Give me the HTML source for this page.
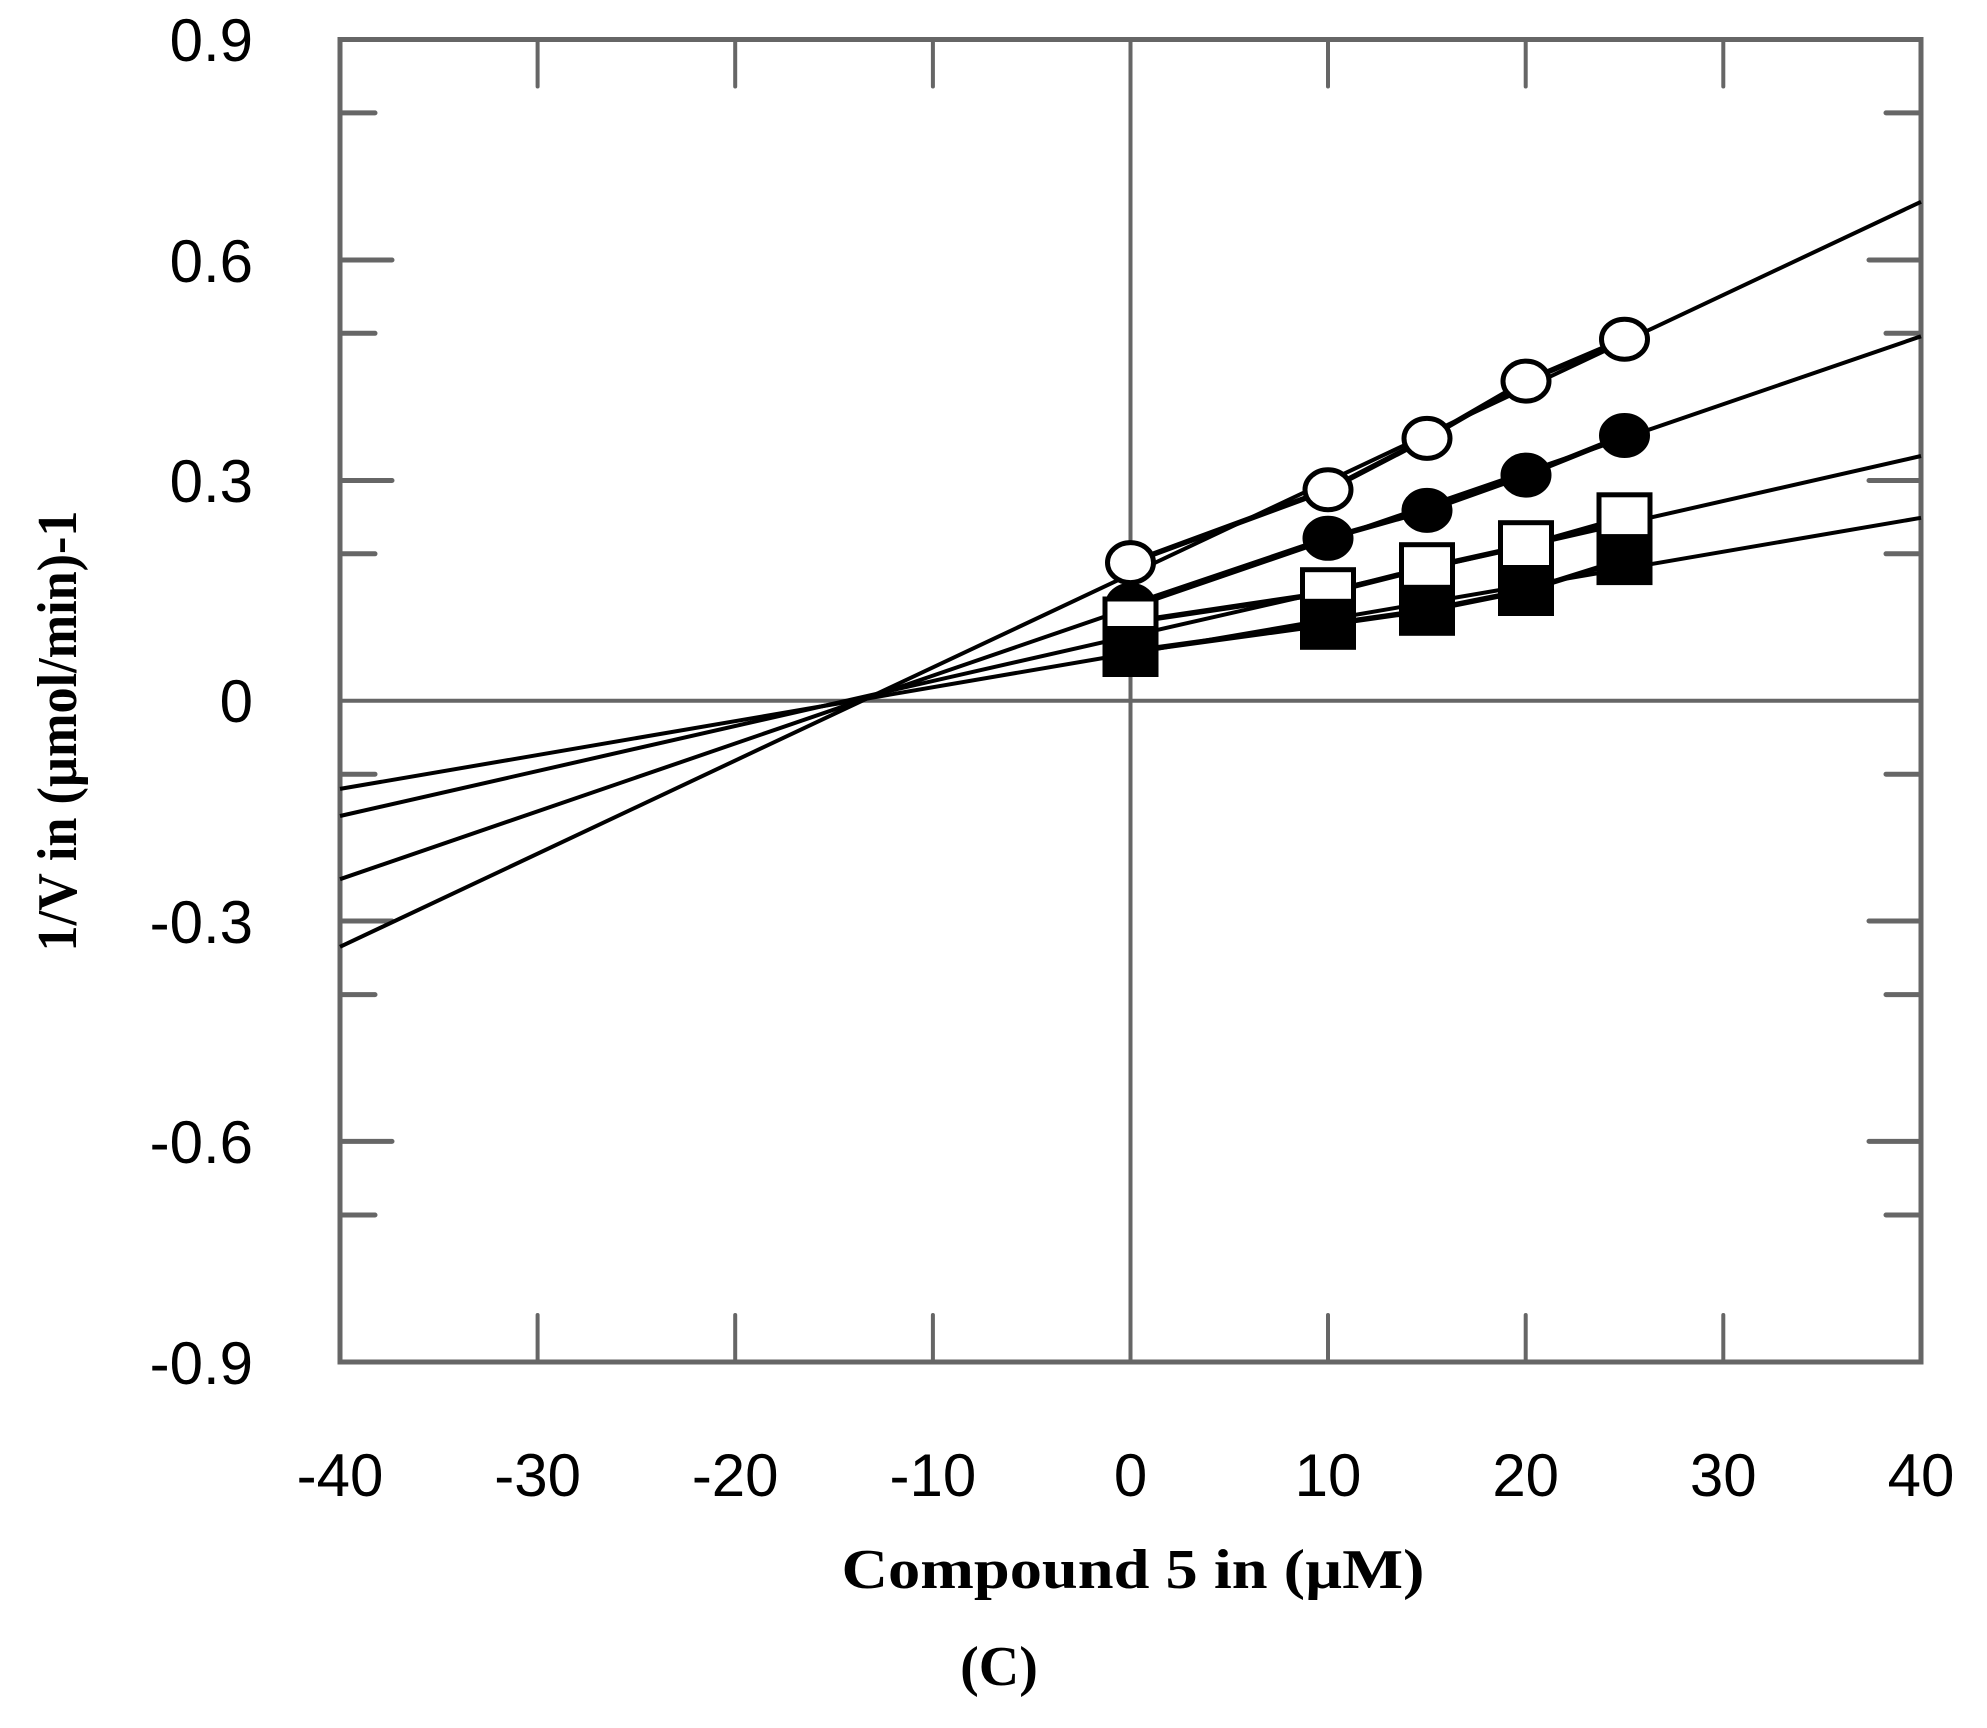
<!DOCTYPE html>
<html><head><meta charset="utf-8"><style>body{margin:0;background:#fff}svg{display:block}</style></head>
<body>
<svg width="1987" height="1728" viewBox="0 0 1987 1728" xmlns="http://www.w3.org/2000/svg">
<g stroke="#666" stroke-width="4" fill="none" stroke-linecap="round">
<rect x="340" y="39.5" width="1581" height="1322.5" stroke-width="5"/>
<line x1="1130.5" y1="39.5" x2="1130.5" y2="1362"/>
<line x1="340" y1="700.7" x2="1921" y2="700.7"/>
<path d="M537.6 39.5v47M735.2 39.5v47M932.9 39.5v47M1328 39.5v47M1525.7 39.5v47M1723.3 39.5v47
M537.6 1362v-47M735.2 1362v-47M932.9 1362v-47M1328 1362v-47M1525.7 1362v-47M1723.3 1362v-47"/>
<path d="M340 260h52M340 480.5h52M340 921h52M340 1141.4h52
M1921 260h-52M1921 480.5h-52M1921 921h-52M1921 1141.4h-52
M340 112.9h35M340 333.3h35M340 553.8h35M340 774.2h35M340 994.6h35M340 1215h35
M1921 112.9h-35M1921 333.3h-35M1921 553.8h-35M1921 774.2h-35M1921 994.6h-35M1921 1215h-35" stroke-width="5"/>
</g>
<g font-family="Liberation Sans, sans-serif" font-size="60" fill="#000" text-anchor="end">
<text x="253" y="61">0.9</text>
<text x="253" y="282">0.6</text>
<text x="253" y="502">0.3</text>
<text x="253" y="722">0</text>
<text x="253" y="943">-0.3</text>
<text x="253" y="1163">-0.6</text>
<text x="253" y="1384">-0.9</text>
</g>
<g font-family="Liberation Sans, sans-serif" font-size="60" fill="#000" text-anchor="middle">
<text x="340" y="1496">-40</text>
<text x="537.6" y="1496">-30</text>
<text x="735.2" y="1496">-20</text>
<text x="932.9" y="1496">-10</text>
<text x="1130.5" y="1496">0</text>
<text x="1328" y="1496">10</text>
<text x="1525.7" y="1496">20</text>
<text x="1723.3" y="1496">30</text>
<text x="1921" y="1496">40</text>
</g>
<g font-family="Liberation Serif, serif" font-weight="bold" fill="#000" text-anchor="middle">
<text x="1133" y="1588" font-size="56" textLength="583" lengthAdjust="spacingAndGlyphs">Compound 5 in (µM)</text>
<text x="999" y="1685" font-size="56">(C)</text>
<text transform="translate(76,731) rotate(-90)" font-size="56" textLength="441" lengthAdjust="spacingAndGlyphs">1/V in (µmol/min)-1</text>
</g>
<g stroke="#000" stroke-width="4" fill="none">
<line x1="340" y1="946.8" x2="1921" y2="201.8"/>
<line x1="340" y1="879.2" x2="1921" y2="336.3"/>
<line x1="340" y1="816" x2="1921" y2="456"/>
<line x1="340" y1="788.9" x2="1921" y2="517.8"/>
<g stroke-width="5.5">
<polyline points="1130.5,562.6 1328,489.8 1427,438.4 1526,381.1 1624.5,339.2"/>
<polyline points="1130.5,605.2 1328,538.3 1427,510.4 1526,475.1 1624.5,435.5"/>
<polyline points="1130.5,622.1 1328,592.7 1427,567.7 1526,545.7 1624.5,517.8"/>
<polyline points="1130.5,651.5 1328,624.3 1427,610.3 1526,590.5 1624.5,559.6"/>
</g>
</g>
<g stroke="#000" stroke-width="5">
<g fill="#fff">
<ellipse cx="1130.5" cy="562.6" rx="23" ry="20"/>
<ellipse cx="1328" cy="489.8" rx="23" ry="20"/>
<ellipse cx="1427" cy="438.4" rx="23" ry="20"/>
<ellipse cx="1526" cy="381.1" rx="23" ry="20"/>
<ellipse cx="1624.5" cy="339.2" rx="23" ry="20"/>
</g>
<g fill="#000">
<ellipse cx="1130.5" cy="605.2" rx="23" ry="20"/>
<ellipse cx="1328" cy="538.3" rx="23" ry="20"/>
<ellipse cx="1427" cy="510.4" rx="23" ry="20"/>
<ellipse cx="1526" cy="475.1" rx="23" ry="20"/>
<ellipse cx="1624.5" cy="435.5" rx="23" ry="20"/>
</g>
<g fill="#fff">
<rect x="1105" y="599" width="51" height="46"/>
<rect x="1302.5" y="569.7" width="51" height="46"/>
<rect x="1401.5" y="544.7" width="51" height="46"/>
<rect x="1500.5" y="522.7" width="51" height="46"/>
<rect x="1599" y="494.8" width="51" height="46"/>
</g>
<g fill="#000">
<rect x="1105" y="628.5" width="51" height="46"/>
<rect x="1302.5" y="601.3" width="51" height="46"/>
<rect x="1401.5" y="587.3" width="51" height="46"/>
<rect x="1500.5" y="567.5" width="51" height="46"/>
<rect x="1599" y="536.6" width="51" height="46"/>
</g>
</g>
</svg>
</body></html>
